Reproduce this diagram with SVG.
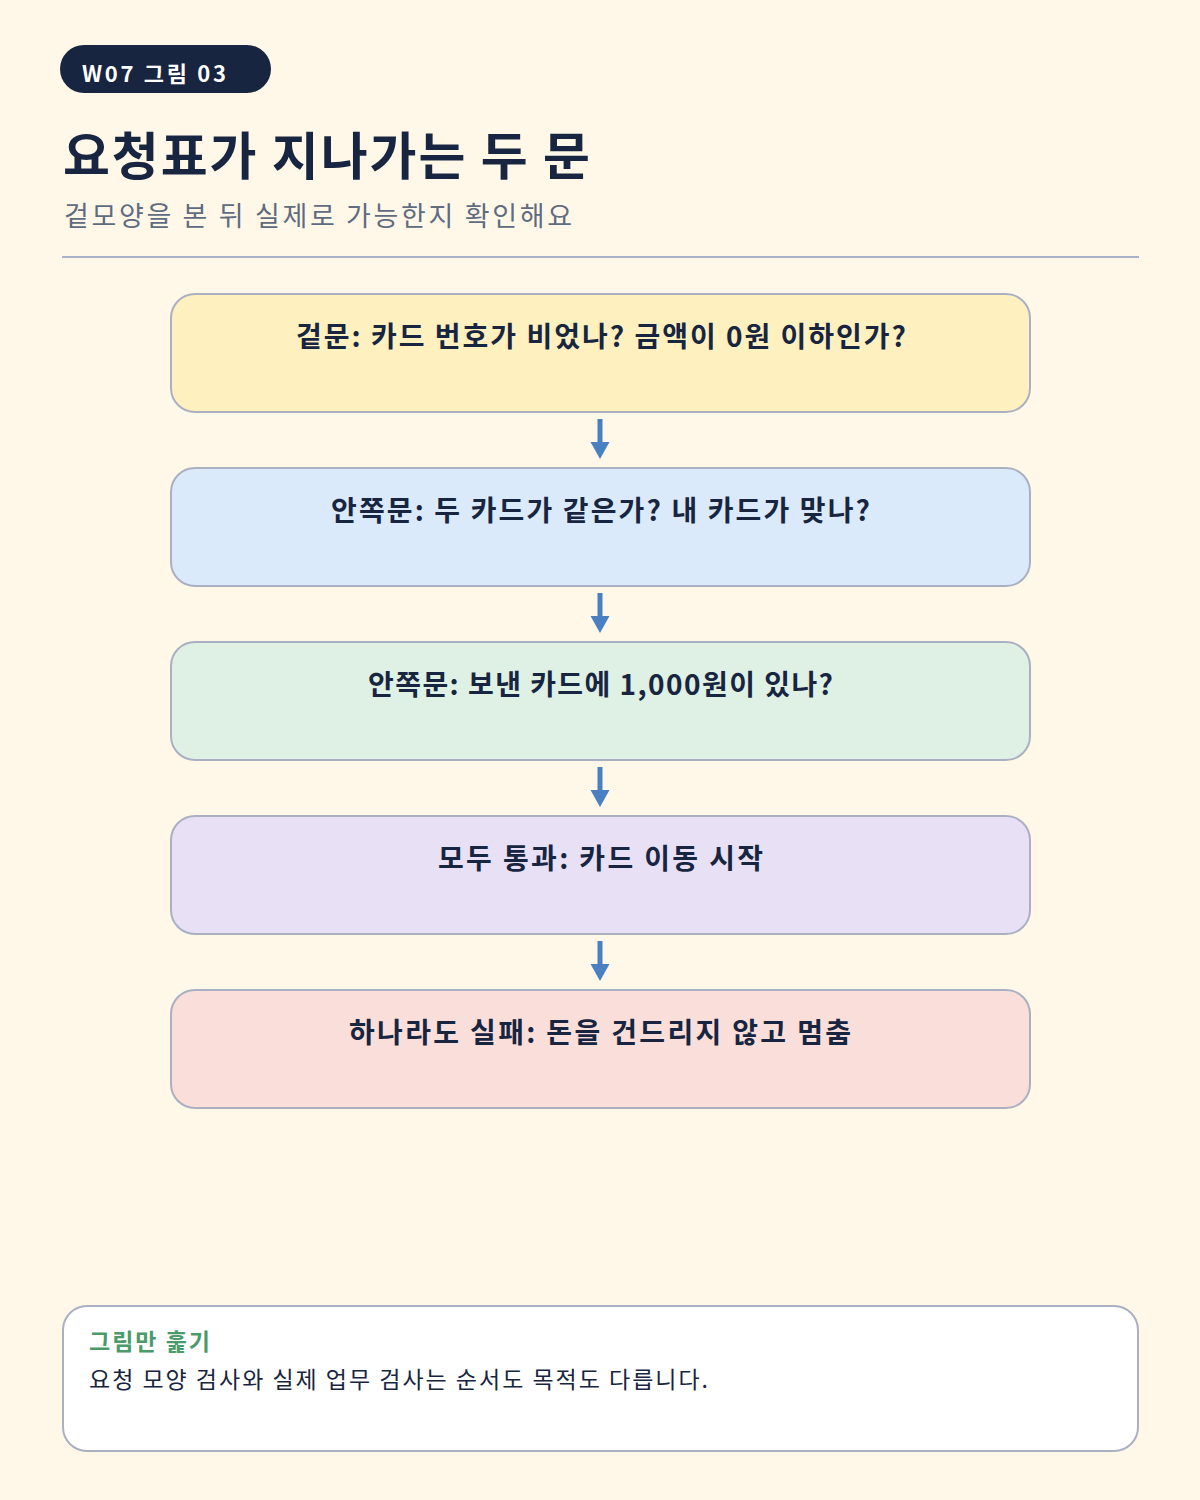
<svg xmlns="http://www.w3.org/2000/svg" width="1200" height="1500" viewBox="0 0 1200 1500">
<style>
text{font-family:"Noto Sans CJK KR","Noto Sans",sans-serif}
.box{stroke:#aab0c2;stroke-width:2}
.lbl{font-size:28px;font-weight:700;fill:#172540;text-anchor:middle}
.arr{stroke:#4a7fc1;stroke-width:5}
.head{fill:#4a7fc1}
</style>
<rect x="0" y="0" width="1200" height="1500" fill="#fff8e8"/>
<g id="header">
<rect x="60" y="45" width="211" height="48" rx="24" fill="#172540"/>
<text x="82" y="82" font-size="22" font-weight="700" fill="#ffffff" textLength="144" lengthAdjust="spacing">W07 그림 03</text>
<text x="63" y="175" font-size="51" font-weight="700" fill="#172540" textLength="527" lengthAdjust="spacing">요청표가 지나가는 두 문</text>
<text x="64" y="226" font-size="27" fill="#5f6b7f" textLength="508" lengthAdjust="spacing">겉모양을 본 뒤 실제로 가능한지 확인해요</text>
<line x1="62" y1="257" x2="1139" y2="257" stroke="#aab3c5" stroke-width="2"/>
</g>
<g id="connectors">
<line class="arr" x1="600" y1="419" x2="600" y2="444"/>
<polygon class="head" points="590.5,442 609.5,442 600,459"/>
<line class="arr" x1="600" y1="593" x2="600" y2="618"/>
<polygon class="head" points="590.5,616 609.5,616 600,633"/>
<line class="arr" x1="600" y1="767" x2="600" y2="792"/>
<polygon class="head" points="590.5,790 609.5,790 600,807"/>
<line class="arr" x1="600" y1="941" x2="600" y2="966"/>
<polygon class="head" points="590.5,964 609.5,964 600,981"/>
</g>
<g id="node1">
<rect class="box" x="171" y="294" width="859" height="118" rx="24" fill="#fff0bf"/>
<text class="lbl" x="601" y="347" textLength="610" lengthAdjust="spacing">겉문: 카드 번호가 비었나? 금액이 0원 이하인가?</text>
</g>
<g id="node2">
<rect class="box" x="171" y="468" width="859" height="118" rx="24" fill="#dbeafa"/>
<text class="lbl" x="600.5" y="521" textLength="539" lengthAdjust="spacing">안쪽문: 두 카드가 같은가? 내 카드가 맞나?</text>
</g>
<g id="node3">
<rect class="box" x="171" y="642" width="859" height="118" rx="24" fill="#dff0e4"/>
<text class="lbl" x="600.5" y="695" textLength="465" lengthAdjust="spacing">안쪽문: 보낸 카드에 1,000원이 있나?</text>
</g>
<g id="node4">
<rect class="box" x="171" y="816" width="859" height="118" rx="24" fill="#e8e0f5"/>
<text class="lbl" x="600.5" y="869" textLength="325" lengthAdjust="spacing">모두 통과: 카드 이동 시작</text>
</g>
<g id="node5">
<rect class="box" x="171" y="990" width="859" height="118" rx="24" fill="#f9ded9"/>
<text class="lbl" x="600" y="1043" textLength="502" lengthAdjust="spacing">하나라도 실패: 돈을 건드리지 않고 멈춤</text>
</g>
<g id="summary">
<rect class="box" x="63" y="1306" width="1075" height="145" rx="24" fill="#ffffff"/>
<text x="89" y="1350" font-size="23" font-weight="700" fill="#4a9a6a" textLength="121" lengthAdjust="spacing">그림만 훑기</text>
<text x="89" y="1388" font-size="23" fill="#172540" textLength="619" lengthAdjust="spacing">요청 모양 검사와 실제 업무 검사는 순서도 목적도 다릅니다.</text>
</g>
</svg>
